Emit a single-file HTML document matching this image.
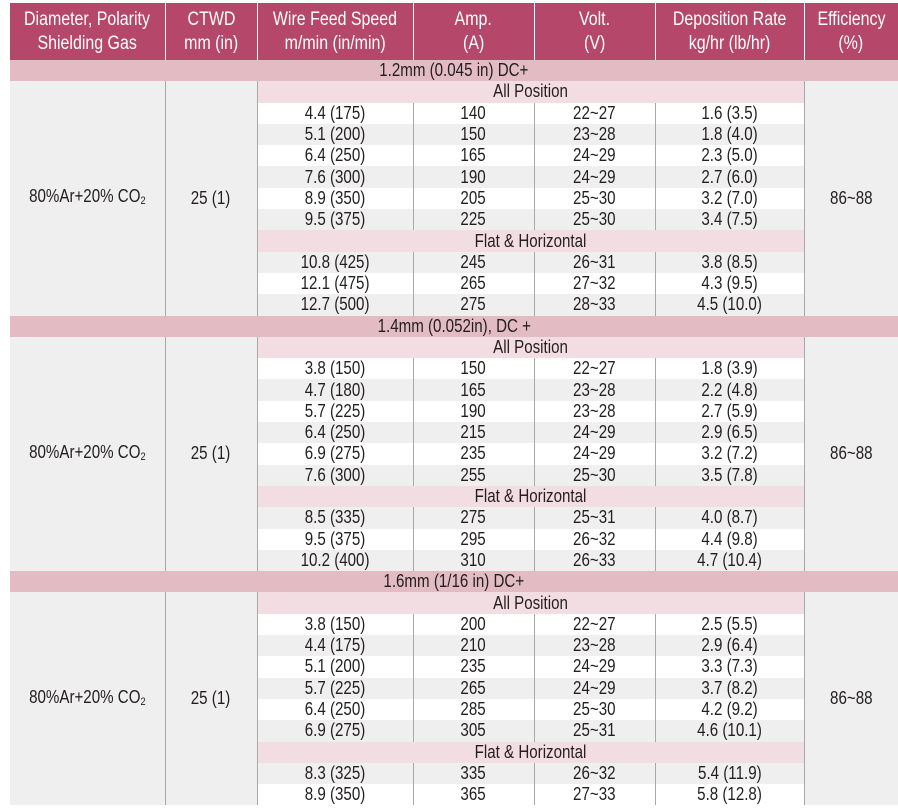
<!DOCTYPE html>
<html><head><meta charset="utf-8"><style>
html,body{margin:0;padding:0;background:#fff;width:898px;height:808px;overflow:hidden}
table{position:absolute;left:10px;top:3px;width:888px;border-collapse:collapse;table-layout:fixed;font-family:"Liberation Sans Narrow","Liberation Sans",sans-serif;font-size:18px;color:#231f20}
td,th{padding:0;text-align:center;vertical-align:middle;line-height:19px;overflow:hidden;white-space:nowrap}
th{background:#b5486a;color:#fff;font-weight:normal;font-size:19px;line-height:24px;height:57px;border-left:1px solid #fff}
th:first-child{border-left:none}
tr{height:21.3px}
td{height:21.3px}
.band td{background:#e2bbc3}
.sub{background:#f2dde2}
.m{background:#efefef;border-right:1px solid #a8a8a8}
.g td.d{background:#efefef}
.w td.d{background:#fff}
td.d{border-left:1px solid #a8a8a8}
td.e{background:#efefef;border-left:1px solid #a8a8a8}
sub{font-size:11px;vertical-align:baseline;position:relative;top:2px}
.c{display:inline-block;transform:scaleX(0.84);transform-origin:center}
</style></head><body>
<table>
<colgroup><col style="width:155px"><col style="width:92px"><col style="width:156px"><col style="width:121px"><col style="width:121px"><col style="width:149px"><col style="width:94px"></colgroup>
<tr><th>Diameter, Polarity<br>Shielding Gas</th><th>CTWD<br>mm (in)</th><th>Wire Feed Speed<br>m/min (in/min)</th><th>Amp.<br>(A)</th><th>Volt.<br>(V)</th><th>Deposition Rate<br>kg/hr (lb/hr)</th><th>Efficiency<br>(%)</th></tr>

<tr class="band"><td colspan="7">1.2mm (0.045 in) DC+</td></tr>
<tr><td class="m" rowspan="11">80%Ar+20% CO<sub>2</sub></td><td class="m" rowspan="11">25 (1)</td><td class="sub" colspan="4">All Position</td><td class="e" rowspan="11">86~88</td></tr>
<tr class="w"><td class="d" style="border-left:none">4.4 (175)</td><td class="d">140</td><td class="d">22~27</td><td class="d">1.6 (3.5)</td></tr>
<tr class="g"><td class="d" style="border-left:none">5.1 (200)</td><td class="d">150</td><td class="d">23~28</td><td class="d">1.8 (4.0)</td></tr>
<tr class="w"><td class="d" style="border-left:none">6.4 (250)</td><td class="d">165</td><td class="d">24~29</td><td class="d">2.3 (5.0)</td></tr>
<tr class="g"><td class="d" style="border-left:none">7.6 (300)</td><td class="d">190</td><td class="d">24~29</td><td class="d">2.7 (6.0)</td></tr>
<tr class="w"><td class="d" style="border-left:none">8.9 (350)</td><td class="d">205</td><td class="d">25~30</td><td class="d">3.2 (7.0)</td></tr>
<tr class="g"><td class="d" style="border-left:none">9.5 (375)</td><td class="d">225</td><td class="d">25~30</td><td class="d">3.4 (7.5)</td></tr>
<tr><td class="sub" colspan="4">Flat &amp; Horizontal</td></tr>
<tr class="g"><td class="d" style="border-left:none">10.8 (425)</td><td class="d">245</td><td class="d">26~31</td><td class="d">3.8 (8.5)</td></tr>
<tr class="w"><td class="d" style="border-left:none">12.1 (475)</td><td class="d">265</td><td class="d">27~32</td><td class="d">4.3 (9.5)</td></tr>
<tr class="g"><td class="d" style="border-left:none">12.7 (500)</td><td class="d">275</td><td class="d">28~33</td><td class="d">4.5 (10.0)</td></tr>

<tr class="band"><td colspan="7">1.4mm (0.052in), DC +</td></tr>
<tr><td class="m" rowspan="11">80%Ar+20% CO<sub>2</sub></td><td class="m" rowspan="11">25 (1)</td><td class="sub" colspan="4">All Position</td><td class="e" rowspan="11">86~88</td></tr>
<tr class="w"><td class="d" style="border-left:none">3.8 (150)</td><td class="d">150</td><td class="d">22~27</td><td class="d">1.8 (3.9)</td></tr>
<tr class="g"><td class="d" style="border-left:none">4.7 (180)</td><td class="d">165</td><td class="d">23~28</td><td class="d">2.2 (4.8)</td></tr>
<tr class="w"><td class="d" style="border-left:none">5.7 (225)</td><td class="d">190</td><td class="d">23~28</td><td class="d">2.7 (5.9)</td></tr>
<tr class="g"><td class="d" style="border-left:none">6.4 (250)</td><td class="d">215</td><td class="d">24~29</td><td class="d">2.9 (6.5)</td></tr>
<tr class="w"><td class="d" style="border-left:none">6.9 (275)</td><td class="d">235</td><td class="d">24~29</td><td class="d">3.2 (7.2)</td></tr>
<tr class="g"><td class="d" style="border-left:none">7.6 (300)</td><td class="d">255</td><td class="d">25~30</td><td class="d">3.5 (7.8)</td></tr>
<tr><td class="sub" colspan="4">Flat &amp; Horizontal</td></tr>
<tr class="g"><td class="d" style="border-left:none">8.5 (335)</td><td class="d">275</td><td class="d">25~31</td><td class="d">4.0 (8.7)</td></tr>
<tr class="w"><td class="d" style="border-left:none">9.5 (375)</td><td class="d">295</td><td class="d">26~32</td><td class="d">4.4 (9.8)</td></tr>
<tr class="g"><td class="d" style="border-left:none">10.2 (400)</td><td class="d">310</td><td class="d">26~33</td><td class="d">4.7 (10.4)</td></tr>

<tr class="band"><td colspan="7">1.6mm (1/16 in) DC+</td></tr>
<tr><td class="m" rowspan="10">80%Ar+20% CO<sub>2</sub></td><td class="m" rowspan="10">25 (1)</td><td class="sub" colspan="4">All Position</td><td class="e" rowspan="10">86~88</td></tr>
<tr class="w"><td class="d" style="border-left:none">3.8 (150)</td><td class="d">200</td><td class="d">22~27</td><td class="d">2.5 (5.5)</td></tr>
<tr class="g"><td class="d" style="border-left:none">4.4 (175)</td><td class="d">210</td><td class="d">23~28</td><td class="d">2.9 (6.4)</td></tr>
<tr class="w"><td class="d" style="border-left:none">5.1 (200)</td><td class="d">235</td><td class="d">24~29</td><td class="d">3.3 (7.3)</td></tr>
<tr class="g"><td class="d" style="border-left:none">5.7 (225)</td><td class="d">265</td><td class="d">24~29</td><td class="d">3.7 (8.2)</td></tr>
<tr class="w"><td class="d" style="border-left:none">6.4 (250)</td><td class="d">285</td><td class="d">25~30</td><td class="d">4.2 (9.2)</td></tr>
<tr class="g"><td class="d" style="border-left:none">6.9 (275)</td><td class="d">305</td><td class="d">25~31</td><td class="d">4.6 (10.1)</td></tr>
<tr><td class="sub" colspan="4">Flat &amp; Horizontal</td></tr>
<tr class="g"><td class="d" style="border-left:none">8.3 (325)</td><td class="d">335</td><td class="d">26~32</td><td class="d">5.4 (11.9)</td></tr>
<tr class="w"><td class="d" style="border-left:none">8.9 (350)</td><td class="d">365</td><td class="d">27~33</td><td class="d">5.8 (12.8)</td></tr>
</table>
<script>
document.querySelectorAll('td,th').forEach(function(c){c.innerHTML='<span class="c">'+c.innerHTML.split('<br>').join('</span><br><span class="c">')+'</span>';});
</script>
</body></html>
